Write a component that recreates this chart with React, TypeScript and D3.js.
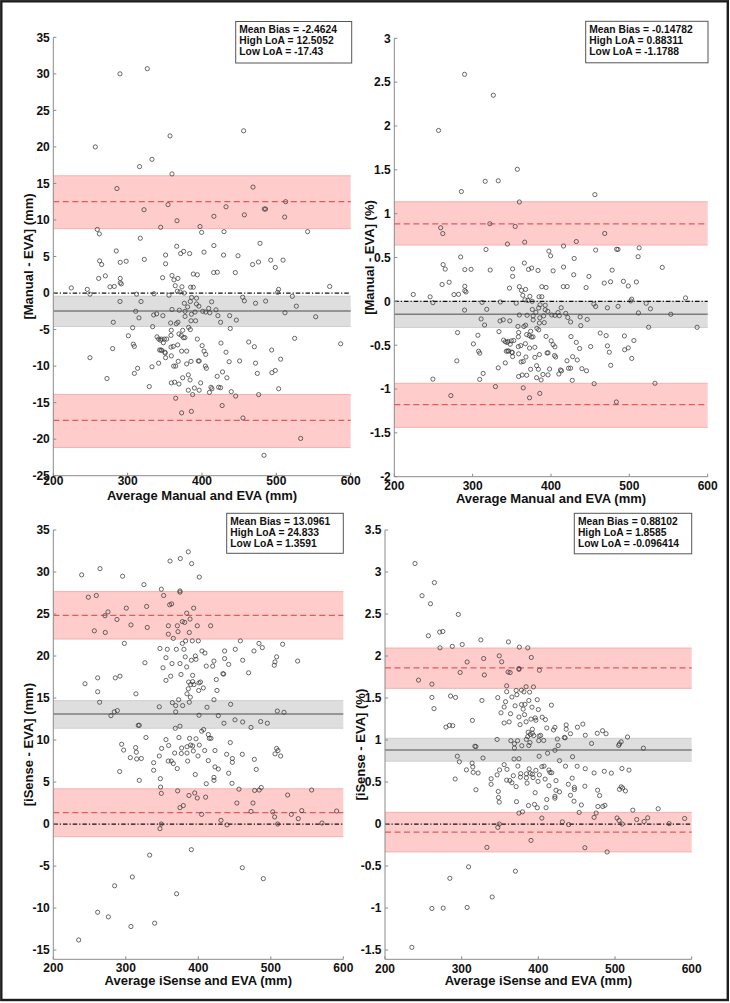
import React from 'react';
import * as d3 from 'd3';

// ---------- DATA ----------
const xTicks = [200, 300, 400, 500, 600];
const manualMmTicks = [-25, -20, -15, -10, -5, 0, 5, 10, 15, 20, 25, 30, 35];
const manualPctTicks = [-2, -1.5, -1, -0.5, 0, 0.5, 1, 1.5, 2, 2.5, 3];
const isenseMmTicks = [-15, -10, -5, 0, 5, 10, 15, 20, 25, 30, 35];
const isensePctTicks = [-1.5, -1, -0.5, 0, 0.5, 1, 1.5, 2, 2.5, 3, 3.5];

// [mean bias, high LoA, low LoA]
const manualMmStats = [-2.4624, 12.5052, -17.43];
const manualPctStats = [-0.14782, 0.88311, -1.1788];
const isenseMmStats = [13.0961, 24.833, 1.3591];
const isensePctStats = [0.88102, 1.8585, -0.096414];

// confidence bands [bias, high, low] as [lower, upper]
const manualMmCI = [[-4.58, -0.43], [8.81, 16.05], [-21.15, -13.88]];
const manualPctCI = [[-0.298, 0.002], [0.642, 1.136], [-1.437, -0.935]];
const isenseMmCI = [[11.4, 14.69], [22.02, 27.67], [-1.5, 4.2]];
const isensePctCI = [[0.748, 1.021], [1.615, 2.095], [-0.332, 0.139]];

const manualMmLegend = ['Mean Bias = -2.4624', 'High LoA = 12.5052', 'Low LoA = -17.43'];
const manualPctLegend = ['Mean Bias = -0.14782', 'High LoA = 0.88311', 'Low LoA = -1.1788'];
const isenseMmLegend = ['Mean Bias = 13.0961', 'High LoA = 24.833', 'Low LoA = 1.3591'];
const isensePctLegend = ['Mean Bias = 0.88102', 'High LoA = 1.8585', 'Low LoA = -0.096414'];

// Manual vs EVA: [average (mm), difference (mm), difference (%)]
const manualPoints: number[][] = [
  [289.7,30.0,2.589],[326.4,30.7,2.351],[256.5,20.0,1.949],[357,21.5,1.506],[456,22.2,1.217],
  [332.7,18.3,1.375],[316,17.3,1.369],[359.6,16.3,1.133],[285.6,14.3,1.252],[468.6,14.5,0.774],
  [512.5,12.5,0.610],[354.3,12.1,0.854],[322,11.4,0.885],[432.3,11.8,0.682],[483.8,11.5,0.594],
  [485.5,11.5,0.592],[366.4,9.9,0.675],[416,10.5,0.631],[457,10.7,0.585],[511.2,10.4,0.509],
  [344.4,9.0,0.653],[397.3,9.1,0.573],[259.2,8.7,0.839],[261.9,8.1,0.773],[399.5,8.3,0.519],
  [429.6,8.4,0.489],[542,8.4,0.387],[317,7.5,0.591],[478,6.8,0.356],[366,6.4,0.437],
  [416,6.5,0.391],[284.7,5.76,0.506],[351,5.2,0.370],[371.3,5.4,0.364],[375.3,5.7,0.380],
  [383.4,5.4,0.352],[402.7,5.6,0.348],[429,5.2,0.303],[448.4,5.1,0.284],[351,4.0,0.285],
  [262.3,4.4,0.419],[265,3.9,0.368],[290,4.2,0.362],[298,4.35,0.365],[322.4,4.6,0.357],
  [468,3.9,0.208],[476,4.25,0.223],[492.4,4.5,0.228],[498.6,3.5,0.175],[509,4.5,0.221],
  [261,2.0,0.192],[270,2.35,0.218],[290,2.0,0.172],[290,1.4,0.121],[291.5,1.25,0.107],
  [347,2.1,0.151],[359.6,2.4,0.167],[362.3,1.8,0.124],[367.6,2.0,0.136],[388.3,2.6,0.167],
  [393.7,2.5,0.159],[415.7,2.8,0.168],[420.6,2.85,0.169],[444.8,2.8,0.157],[224.2,0.7,0.078],
  [245.7,0.5,0.051],[276.2,0.85,0.077],[282,0.9,0.080],[364,1.0,0.069],[373,0.85,0.057],
  [384.7,0.8,0.052],[388.3,0.8,0.052],[366.8,0.25,0.017],[571.7,0.9,0.039],[503,0.5,0.025],
  [501.7,0.1,0.005],[249.3,-0.15,-0.015],[312,-0.15,-0.012],[335.4,-0.1,-0.007],[355.6,-0.3,-0.021],
  [370.4,0.15,0.010],[376,0,0],[386,-0.6,-0.039],[392.6,-0.7,-0.045],[454.7,-0.57,-0.031],
  [457,-1.07,-0.059],[485.6,-1.1,-0.057],[472,-1.4,-0.074],[521.5,-0.45,-0.022],[289.7,-1.16,-0.100],
  [318,-1.16,-0.091],[384.3,-1.16,-0.075],[376.2,-1.4,-0.093],[392.6,-1.5,-0.096],[395.8,-1.8,-0.114],
  [413,-1.2,-0.073],[401,-2.5,-0.156],[405,-2.6,-0.160],[410.5,-2.7,-0.164],[409,-2.1,-0.128],
  [418.8,-2.3,-0.137],[380.7,-1.9,-0.125],[377.2,-2.5,-0.166],[390.6,-2.6,-0.166],[385.7,-2.9,-0.188],
  [526.9,-1.8,-0.085],[511.6,-2.7,-0.132],[310.8,-2.5,-0.201],[359.6,-2.25,-0.156],[369.5,-2.35,-0.159],
  [339,-2.85,-0.210],[335,-3.0,-0.224],[347.4,-3.1,-0.223],[377.2,-3.2,-0.212],[421.4,-3.1,-0.184],
  [437.2,-3.1,-0.177],[315.2,-3.4,-0.270],[552.9,-3.25,-0.147],[446.2,-3.7,-0.207],[425,-4.0,-0.235],
  [280.7,-4.0,-0.356],[357.8,-4.1,-0.286],[367.6,-4.0,-0.272],[365.4,-4.2,-0.287],[385.2,-3.8,-0.247],
  [391.4,-3.8,-0.243],[306.7,-4.75,-0.387],[333.6,-4.6,-0.345],[382,-4.7,-0.308],[384.3,-5.0,-0.325],
  [374,-5.1,-0.341],[358.7,-5.1,-0.355],[438,-4.85,-0.277],[369,-5.6,-0.379],[372.2,-5.8,-0.390],
  [358.3,-5.8,-0.405],[301,-5.85,-0.486],[375,-6.1,-0.407],[377,-6.1,-0.405],[339.5,-6.0,-0.442],
  [341.7,-6.3,-0.461],[345.3,-6.3,-0.456],[349.4,-6.3,-0.451],[352.5,-6.3,-0.447],[393.7,-6.3,-0.400],
  [348,-6.8,-0.489],[344,-6.45,-0.469],[425.5,-6.85,-0.402],[462.8,-6.7,-0.362],[470.4,-7.35,-0.391],
  [524.6,-6.2,-0.295],[586.5,-6.95,-0.296],[307.6,-7.0,-0.569],[309,-7.3,-0.591],[400.2,-7.2,-0.450],
  [361.4,-7.3,-0.505],[358.3,-7.4,-0.516],[367.3,-7.1,-0.483],[279.8,-7.6,-0.679],[343,-7.8,-0.569],
  [344.8,-7.8,-0.566],[346,-7.85,-0.567],[372.6,-7.95,-0.533],[379.4,-7.95,-0.524],[402.7,-7.95,-0.494],
  [493.7,-7.8,-0.395],[350.6,-8.2,-0.585],[350,-8.1,-0.579],[405,-8.4,-0.519],[432.3,-8.1,-0.468],
  [249.3,-8.85,-0.887],[358.7,-8.6,-0.599],[351,-8.85,-0.630],[368,-9.35,-0.635],[385.2,-9.35,-0.607],
  [395,-9.3,-0.589],[396.2,-9.3,-0.587],[436.5,-9.4,-0.538],[450.6,-9.3,-0.516],[505.8,-9.05,-0.447],
  [472,-9.6,-0.508],[341.7,-9.6,-0.702],[332.7,-10.1,-0.759],[361.9,-10,-0.691],[364.6,-10,-0.686],
  [379.4,-9.7,-0.639],[404.5,-10,-0.618],[405.9,-10.3,-0.634],[313.4,-10.3,-0.822],[498.6,-10.6,-0.531],
  [494,-10.9,-0.552],[309,-11.0,-0.890],[474.4,-11.0,-0.580],[381.6,-11.2,-0.734],[374,-11.6,-0.775],
  [383.9,-11.9,-0.775],[420.4,-11.4,-0.678],[427.6,-10.8,-0.631],[433.5,-11.6,-0.669],[272.2,-11.7,-1.075],
  [358.7,-12.3,-0.857],[363.2,-12.2,-0.840],[398.2,-12.3,-0.772],[369,-12.45,-0.843],[329.1,-12.8,-0.972],
  [412.1,-12.9,-0.783],[413.4,-13.1,-0.792],[422.4,-12.9,-0.763],[425,-12.95,-0.762],[381.6,-13.3,-0.871],
  [389.7,-13.0,-0.834],[396.2,-13.3,-0.839],[410,-13.6,-0.829],[439.4,-13.5,-0.768],[503.1,-13.1,-0.651],
  [387.4,-13.9,-0.897],[445.3,-14.1,-0.792],[476.2,-13.9,-0.730],[364.6,-14.4,-0.987],[427.1,-15.4,-0.901],
  [372.6,-16.4,-1.100],[385.7,-16.2,-1.050],[455.1,-17.1,-0.939],[532.7,-19.9,-0.934],[483.4,-22.2,-1.148],
];

// iSense vs EVA: [average (mm), difference (mm), difference (%)]
const isensePoints: number[][] = [
  [239.1,29.66,3.101],[264.4,30.4,2.874],[295.6,29.5,2.495],[325,28.5,2.192],[361,31.3,2.168],
  [375.2,31.6,2.106],[386.2,32.4,2.097],[390.8,31.0,1.983],[401.4,29.4,1.831],[349,27.95,2.002],
  [352.2,27.2,1.931],[374.7,27.75,1.851],[374.7,27.6,1.841],[248.3,27.0,2.718],[259.3,27.2,2.622],
  [300.7,25.7,2.137],[328.7,25.9,1.970],[360.5,26.1,1.810],[363.2,26.2,1.803],[393.6,25.7,1.632],
  [384,25.1,1.634],[275.4,25.25,2.292],[271.3,24.8,2.285],[287.8,24.35,2.115],[388.6,24.4,1.570],
  [378,24.1,1.594],[381.2,24.0,1.574],[307.1,23.7,1.929],[329.6,23.4,1.775],[358.7,23.6,1.645],
  [371.1,23.6,1.590],[398.6,23.6,1.480],[417,23.6,1.415],[256.6,23.0,2.241],[271.7,22.8,2.098],
  [358.7,22.6,1.575],[372,22.9,1.539],[387.6,22.8,1.471],[365.5,22.1,1.512],[298,21.5,1.804],
  [378,21.5,1.422],[382.5,21.8,1.425],[391.7,21.8,1.391],[400,21.8,1.363],[458,21.8,1.190],
  [483.7,21.5,1.111],[516.3,21.4,1.036],[347.1,20.9,1.505],[357.2,20.8,1.456],[369.7,20.8,1.407],
  [380.2,20.8,1.368],[405,20.6,1.272],[409.2,20.35,1.243],[436.3,20.6,1.180],[451,20.8,1.153],
  [476.8,20.6,1.080],[488.3,21.0,1.075],[355.4,19.8,1.393],[382,19.9,1.302],[395.9,20.0,1.263],
  [396.8,19.6,1.235],[508,19.9,0.979],[436.3,19.7,1.129],[461.2,19.5,1.057],[505.8,19.3,0.954],
  [504.8,18.9,0.936],[537,19.4,0.903],[326.4,19.2,1.471],[363.7,19.1,1.313],[374.7,19.1,1.274],
  [390.4,19.5,1.249],[421.6,19.4,1.150],[441.9,19.0,1.075],[351.3,18.6,1.324],[384,18.7,1.217],
  [411,18.8,1.144],[419.8,18.8,1.120],[469.4,18.0,0.959],[434,17.9,1.031],[435,17.85,1.026],
  [361.9,17.6,1.216],[376.1,17.8,1.183],[392.2,17.7,1.128],[424.8,17.2,1.012],[355.4,17.1,1.203],
  [243.7,16.7,1.713],[261.2,17.4,1.665],[285.5,17.4,1.524],[292,17.6,1.507],[386.7,16.9,1.093],
  [392.2,16.95,1.080],[401,16.8,1.047],[403,16.9,1.054],[389.4,16.6,1.066],[394,16.6,1.053],
  [407,16.2,0.995],[386.2,16.1,1.042],[400.5,15.9,0.993],[425.8,15.9,0.934],[261.2,15.75,1.507],
  [314,15.5,1.234],[384.4,15.5,1.008],[389,15.1,0.970],[372.9,14.8,0.992],[421.6,14.8,0.878],
  [263.9,14.5,1.374],[364.2,14.45,0.992],[387.6,14.5,0.935],[368.8,14.1,0.956],[378.4,14.1,0.932],
  [346.2,13.95,1.007],[412,13.9,0.843],[444.6,14.25,0.801],[288.3,13.5,1.171],[284.1,13.35,1.175],
  [279.5,12.9,1.154],[368.8,13.35,0.905],[401,12.95,0.807],[427.6,12.9,0.754],[509,13.45,0.661],
  [518.2,13.3,0.642],[450.6,12.4,0.688],[461.2,12.15,0.659],[435.4,12.0,0.689],[472.7,11.5,0.608],
  [486,12.2,0.628],[495.2,12.0,0.606],[317.2,11.75,0.926],[318.6,11.75,0.922],[374.7,11.65,0.777],
  [368.3,11.4,0.774],[407.4,11.25,0.690],[404.6,11.05,0.683],[413.8,10.65,0.643],[415.2,10.2,0.614],
  [417.5,10.2,0.611],[327.8,10.3,0.786],[373.3,10.3,0.690],[388,10.2,0.657],[396.8,10.15,0.639],
  [355.4,10.05,0.707],[444.1,9.7,0.546],[294.3,9.5,0.807],[359.1,9.35,0.651],[384.4,9.2,0.598],
  [389.4,9.4,0.603],[392.2,9.3,0.593],[401.4,9.4,0.585],[377,9.05,0.600],[313.6,9.1,0.725],
  [349.4,9.0,0.644],[508,9.0,0.443],[297,8.8,0.741],[314.5,8.55,0.680],[306.2,7.9,0.645],
  [315,7.75,0.615],[321.4,7.8,0.607],[346.2,8.1,0.585],[367.4,8.45,0.575],[376.6,8.4,0.558],
  [384.4,8.45,0.550],[393.1,8.7,0.553],[399.6,8.1,0.507],[408.8,8.75,0.535],[423,8.75,0.517],
  [439.1,8.3,0.473],[447,7.8,0.436],[447,7.35,0.411],[460.7,8.3,0.450],[477.3,7.7,0.403],
  [505.8,8.35,0.413],[513.6,8.1,0.394],[509.9,8.75,0.429],[338.4,7.3,0.539],[358.6,7.5,0.523],
  [362.8,7.5,0.517],[365.5,7.2,0.492],[385.3,7.5,0.487],[413.8,7.55,0.456],[423,6.8,0.402],
  [427.6,6.55,0.383],[371,6.6,0.445],[338.4,6.4,0.473],[291.5,6.25,0.536],[441.9,6.05,0.342],
  [479.9,6.5,0.339],[395.8,5.9,0.373],[421.6,5.55,0.329],[421.6,5.2,0.308],[318.6,5.2,0.408],
  [347.7,5.4,0.388],[348,4.4,0.316],[411,4.8,0.292],[446.5,4.85,0.272],[349,3.65,0.261],
  [371.5,3.95,0.266],[395,3.7,0.234],[387.1,3.4,0.220],[398.6,3.1,0.194],[410.1,3.2,0.195],
  [456.1,4.15,0.227],[477.7,4.0,0.209],[484,4.05,0.209],[486.8,4.35,0.223],[523.2,3.45,0.165],
  [556.3,4.05,0.182],[374.7,1.95,0.130],[379.3,2.2,0.145],[453.2,2.5,0.138],[475.4,2.5,0.131],
  [404.6,1.15,0.071],[472.7,1.5,0.079],[502.6,1.45,0.072],[528.3,1.15,0.054],[542.6,1.6,0.074],
  [590.8,1.55,0.066],[505.3,0.84,0.042],[537.9,0.64,0.030],[431.3,0.44,0.026],[349,0.0,0],
  [347.1,-0.55,-0.040],[439.6,-0.1,-0.006],[509.4,0.0,0],[570.6,0.12,0.005],[390.4,-3.05,-0.195],
  [332.9,-3.7,-0.278],[460.7,-5.2,-0.282],[309,-6.3,-0.510],[284.6,-7.35,-0.646],[489.7,-6.5,-0.332],
  [370.1,-8.3,-0.561],[261.2,-10.5,-1.005],[275.9,-11.05,-1.001],[307.1,-12.2,-0.993],[339.8,-11.8,-0.868],
  [235,-13.8,-1.468],
];

// ---------- LAYOUT ----------
const FONT = "'Liberation Sans', Arial, Helvetica, sans-serif";

type PanelCfg = {
  key: string; left: number; right: number; top: number; bottom: number;
  yDomain: [number, number]; yTicks: number[]; pts: number[][]; col: number;
  stats: number[]; ci: number[][]; legend: string[];
  box: { x: number; y: number; w: number; h: number };
  yLabel: string; xLabel: string; tickDy: number; xLabelY: number; yLabelX: number;
};

const panels: PanelCfg[] = [
  { key: 'p1', left: 53.3, right: 350.7, top: 37.3, bottom: 475.7, yDomain: [-25, 35], yTicks: manualMmTicks,
    pts: manualPoints, col: 1, stats: manualMmStats, ci: manualMmCI, legend: manualMmLegend,
    box: { x: 235.7, y: 21.5, w: 116, h: 41.5 }, yLabel: '[Manual - EVA] (mm)', xLabel: 'Average Manual and EVA (mm)',
    tickDy: 9.5, xLabelY: 500, yLabelX: 33 },
  { key: 'p2', left: 394.3, right: 707.7, top: 38.3, bottom: 476.7, yDomain: [-2, 3], yTicks: manualPctTicks,
    pts: manualPoints, col: 2, stats: manualPctStats, ci: manualPctCI, legend: manualPctLegend,
    box: { x: 585.7, y: 21.3, w: 122.3, h: 41.5 }, yLabel: '[Manual - EVA] (%)', xLabel: 'Average Manual and EVA (mm)',
    tickDy: 13.3, xLabelY: 503, yLabelX: 374 },
  { key: 'p3', left: 53.3, right: 343.3, top: 530, bottom: 959.3, yDomain: [-16.1, 35], yTicks: isenseMmTicks,
    pts: isensePoints, col: 1, stats: isenseMmStats, ci: isenseMmCI, legend: isenseMmLegend,
    box: { x: 226.7, y: 513.3, w: 116.6, h: 40 }, yLabel: '[iSense - EVA] (mm)', xLabel: 'Average iSense and EVA (mm)',
    tickDy: 12.5, xLabelY: 985, yLabelX: 33 },
  { key: 'p4', left: 385, right: 691.7, top: 530, bottom: 959.3, yDomain: [-1.61, 3.5], yTicks: isensePctTicks,
    pts: isensePoints, col: 2, stats: isensePctStats, ci: isensePctCI, legend: isensePctLegend,
    box: { x: 574.3, y: 513.3, w: 117.4, h: 40.5 }, yLabel: '[iSense - EVA] (%)', xLabel: 'Average iSense and EVA (mm)',
    tickDy: 13.3, xLabelY: 985, yLabelX: 365 },
];

function Panel({ c }: { c: PanelCfg }) {
  const x = d3.scaleLinear().domain([200, 600]).range([c.left, c.right]);
  const y = d3.scaleLinear().domain(c.yDomain).range([c.bottom, c.top]);
  const x0 = x(200), x1 = x(600);
  const axisColor = '#8a8a8a';
  const bandColors = [
    { fill: '#dedede', edge: '#c6c6c6' },
    { fill: '#ffcccc', edge: '#f3a3a3' },
    { fill: '#ffcccc', edge: '#f3a3a3' },
  ];
  const [bias, hi, lo] = c.stats;
  return (
    <g>
      {c.ci.map((b, i) => (
        <g key={'band' + i}>
          <rect x={x0} width={x1 - x0} y={y(b[1])} height={y(b[0]) - y(b[1])} fill={bandColors[i].fill} />
          <line x1={x0} x2={x1} y1={y(b[1])} y2={y(b[1])} stroke={bandColors[i].edge} strokeWidth={0.8} />
          <line x1={x0} x2={x1} y1={y(b[0])} y2={y(b[0])} stroke={bandColors[i].edge} strokeWidth={0.8} />
        </g>
      ))}
      <line x1={x0} x2={x1} y1={y(bias)} y2={y(bias)} stroke="#7c7c7c" strokeWidth={1.5} />
      {[hi, lo].map((v, i) => (
        <line key={'loa' + i} x1={x0} x2={x1} y1={y(v)} y2={y(v)} stroke="#e15a5a" strokeWidth={1.3} strokeDasharray="6,3.5" />
      ))}
      <line x1={x0} x2={x1} y1={y(0)} y2={y(0)} stroke="#111" strokeWidth={1.3} strokeDasharray="4.5,2,1.2,2" />
      {c.pts.map((p, i) => (
        <circle key={'pt' + i} cx={x(p[0])} cy={y(p[c.col])} r={2.1} fill="none" stroke="#3a3a3a" strokeWidth={0.75} />
      ))}
      {/* axes */}
      <line x1={x0} x2={x0} y1={c.top} y2={c.bottom} stroke={axisColor} strokeWidth={1} />
      <line x1={x0} x2={x1} y1={c.bottom} y2={c.bottom} stroke={axisColor} strokeWidth={1} />
      {c.yTicks.map((t) => (
        <g key={'yt' + t}>
          <line x1={x0} x2={x0 + 3} y1={y(t)} y2={y(t)} stroke={axisColor} strokeWidth={1} />
          <text x={x0 - 3.5} y={y(t)} dy="0.36em" textAnchor="end" fontSize={12} fontWeight="bold" fontFamily={FONT} fill="#111">
            {String(t)}
          </text>
        </g>
      ))}
      {xTicks.map((t) => (
        <g key={'xt' + t}>
          <line x1={x(t)} x2={x(t)} y1={c.bottom} y2={c.bottom - 3} stroke={axisColor} strokeWidth={1} />
          <text x={x(t)} y={c.bottom + c.tickDy} textAnchor="middle" fontSize={12} fontWeight="bold" fontFamily={FONT} fill="#111">
            {String(t)}
          </text>
        </g>
      ))}
      <text x={(x0 + x1) / 2} y={c.xLabelY} textAnchor="middle" fontSize={13} fontWeight="bold" fontFamily={FONT} fill="#111">
        {c.xLabel}
      </text>
      <text transform={`translate(${c.yLabelX},${(c.top + c.bottom) / 2}) rotate(-90)`} textAnchor="middle"
        fontSize={13} fontWeight="bold" fontFamily={FONT} fill="#111">
        {c.yLabel}
      </text>
      {/* legend */}
      <rect x={c.box.x} y={c.box.y} width={c.box.w} height={c.box.h} fill="#fff" stroke="#555" strokeWidth={1} />
      {c.legend.map((s, i) => (
        <text key={'lg' + i} x={c.box.x + 3.6} y={c.box.y + 11.8 + i * 10.9} fontSize={10.3} fontWeight="bold" fontFamily={FONT} fill="#111">
          {s}
        </text>
      ))}
    </g>
  );
}

export default function App() {
  return (
    <svg width={730} height={1003} style={{ position: 'absolute', left: 0, top: 0, background: '#fff' }}>
      <rect x={0} y={0} width={730} height={1003} fill="#fff" />
      {panels.map((c) => <Panel key={c.key} c={c} />)}
      <rect x={1.3} y={1.3} width={726.5} height={998.7} fill="none" stroke="#1c1c1c" strokeWidth={2.4} />
    </svg>
  );
}
